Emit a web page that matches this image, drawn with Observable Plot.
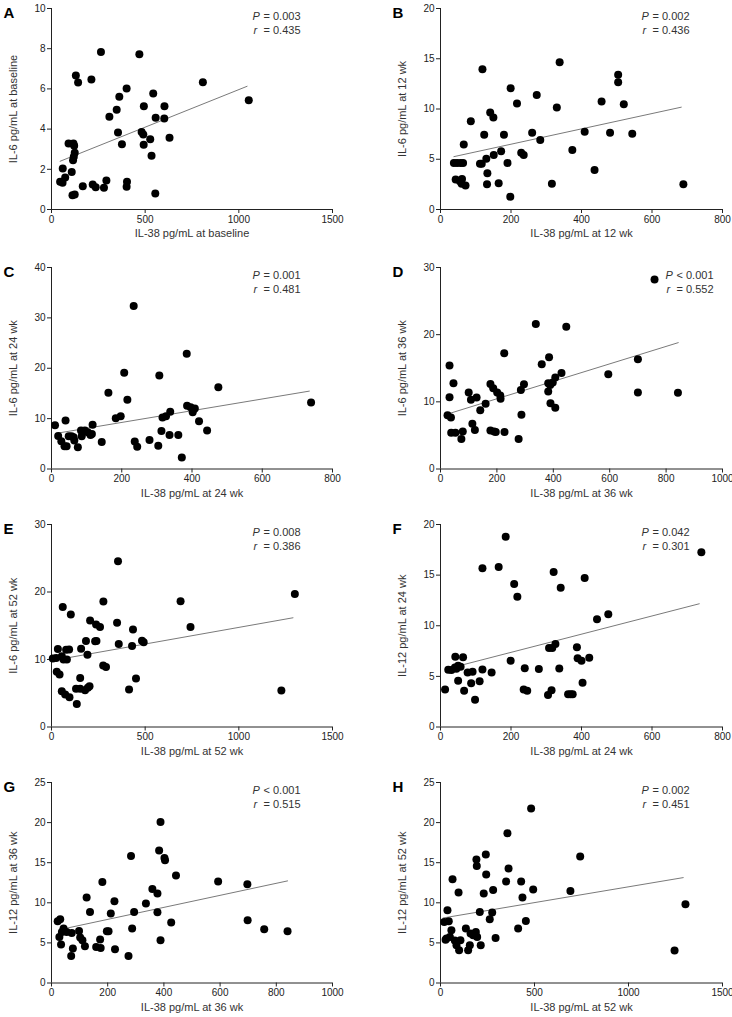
<!DOCTYPE html>
<html><head><meta charset="utf-8">
<script src="https://cdn.jsdelivr.net/npm/d3@7"></script>
<script src="https://cdn.jsdelivr.net/npm/@observablehq/plot@0.6"></script>
<style>
html,body{margin:0;padding:0;background:#fff;overflow:hidden;}
#fig{position:relative;width:732px;height:1017px;}
.panel{position:absolute;}
</style></head><body><div id="fig"></div>
<script>
// ---- data: [IL-38, IL-6 / IL-12] ----
const ptsA = [[46,1.38],[59,1.33],[60,2.04],[73,1.59],[91,3.28],[108,1.87],[112,0.71],[124,0.75],[117,3.28],[115,2.45],[119,2.62],[124,2.82],[121,3.17],[130,6.67],[142,6.32],[167,1.16],[220,1.24],[236,1.11],[264,7.84],[280,1.08],[293,1.44],[213,6.47],[309,4.61],[348,4.96],[362,5.61],[355,3.83],[376,3.25],[401,6.02],[403,1.38],[401,1.13],[469,7.73],[481,3.86],[490,3.73],[492,3.22],[493,5.14],[527,3.5],[534,2.67],[543,5.77],[556,4.56],[554,0.8],[602,4.53],[603,5.14],[630,3.57],[808,6.33],[1053,5.44]];
const ptsB = [[38,4.63],[47,4.63],[43,2.98],[55,2.81],[57,4.63],[61,3.04],[60,2.55],[64,4.63],[66,6.48],[71,2.38],[86,8.79],[112,4.56],[117,4.56],[119,13.95],[124,7.44],[130,5.06],[132,2.51],[133,3.6],[141,9.65],[150,9.16],[151,5.42],[165,2.61],[172,5.79],[180,7.44],[190,4.63],[199,12.07],[198,1.26],[217,10.55],[229,5.65],[236,5.42],[260,7.64],[273,11.4],[283,6.91],[316,2.55],[330,10.15],[338,14.64],[374,5.92],[409,7.74],[437,3.93],[457,10.74],[481,7.64],[504,13.42],[504,12.66],[520,10.48],[544,7.54],[689,2.51]];
const ptsC = [[10,8.69],[19,6.57],[28,5.51],[37,4.51],[40,9.62],[43,4.51],[49,6.5],[57,6.5],[63,6.3],[65,5.64],[75,4.31],[84,7.63],[86,6.5],[95,7.63],[103,7.3],[111,6.77],[115,6.97],[117,8.76],[143,5.37],[162,15.12],[183,10.08],[197,10.48],[207,19.1],[216,13.73],[234,32.37],[237,5.44],[244,4.44],[279,5.77],[304,4.64],[307,18.57],[313,7.56],[316,10.22],[326,10.48],[336,6.77],[338,11.34],[361,6.77],[371,2.26],[385,22.89],[386,12.54],[396,12.27],[402,11.28],[408,12.01],[420,9.49],[443,7.63],[475,16.25],[739,13.2]];
const ptsD = [[25,8.02],[32,15.4],[32,10.69],[37,7.67],[38,5.4],[46,12.77],[53,5.4],[74,4.46],[79,5.59],[100,11.39],[108,10.3],[113,6.73],[122,5.79],[128,10.64],[141,8.76],[160,9.7],[177,12.67],[177,5.74],[187,12.03],[190,5.59],[196,5.5],[201,11.39],[212,10.94],[213,10.45],[226,17.23],[227,5.5],[277,4.46],[285,11.78],[287,8.07],[296,12.62],[338,21.58],[359,15.59],[385,16.63],[382,12.77],[382,11.53],[389,12.52],[390,9.8],[398,12.87],[407,9.11],[407,13.61],[429,14.31],[446,21.19],[595,14.11],[700,16.34],[700,11.39],[842,11.34],[759,28.22]];
const ptsE = [[7,10.13],[25,10.24],[34,11.56],[28,8.17],[43,7.77],[55,10.47],[64,9.99],[82,9.99],[78,11.46],[94,11.5],[60,17.76],[103,16.67],[55,5.31],[73,4.82],[96,4.42],[135,3.4],[131,5.66],[153,5.66],[179,5.46],[194,5.81],[203,6.05],[153,7.25],[158,11.61],[184,12.75],[192,10.72],[206,15.79],[233,12.7],[240,12.75],[238,15.2],[259,14.81],[276,9.1],[291,8.9],[277,18.59],[350,15.45],[355,24.55],[359,12.3],[414,5.56],[430,12.0],[435,14.46],[451,7.2],[483,12.79],[492,12.54],[689,18.64],[742,14.81],[1227,5.41],[1299,19.72]];
const ptsF = [[13,3.7],[22,5.65],[31,5.62],[41,5.88],[45,5.75],[50,6.05],[57,5.95],[42,6.94],[64,6.88],[77,5.39],[91,5.46],[119,5.69],[145,5.39],[50,4.56],[67,3.57],[87,4.33],[111,4.53],[98,2.68],[119,15.67],[165,15.8],[185,18.78],[209,14.12],[218,12.86],[199,6.55],[239,5.8],[236,3.7],[246,3.57],[279,5.72],[305,3.17],[315,3.64],[308,7.8],[317,7.8],[326,8.2],[321,15.31],[337,5.79],[341,13.75],[362,3.24],[369,3.24],[375,3.24],[387,7.87],[389,6.78],[400,6.55],[403,4.36],[409,14.71],[422,6.84],[444,10.64],[476,11.14],[740,17.26]];
const ptsG = [[22,7.7],[31,7.95],[28,5.74],[34,4.79],[37,6.36],[43,6.78],[54,6.36],[72,6.24],[70,3.37],[76,4.29],[98,6.49],[102,5.66],[110,5.33],[119,4.58],[125,10.65],[137,8.86],[159,4.49],[173,5.41],[175,4.37],[181,12.6],[197,6.45],[203,6.45],[211,8.66],[224,10.19],[226,4.2],[274,3.37],[283,15.85],[287,6.78],[294,8.86],[336,9.9],[359,11.73],[377,11.15],[377,8.82],[383,16.51],[388,20.09],[388,5.32],[402,15.6],[404,15.3],[426,7.53],[443,13.4],[593,12.65],[697,12.31],[698,7.82],[757,6.7],[840,6.45]];
const ptsH = [[20,7.61],[37,9.07],[44,7.7],[27,5.4],[32,5.54],[50,5.74],[58,6.57],[64,12.94],[76,5.3],[85,4.7],[96,11.27],[99,4.08],[106,5.33],[135,6.79],[147,4.08],[156,4.7],[160,6.16],[174,5.95],[188,6.36],[195,5.74],[191,15.39],[193,14.6],[209,8.86],[214,4.7],[230,11.15],[241,16.01],[243,13.52],[262,7.95],[275,8.78],[280,11.61],[293,5.62],[349,12.65],[356,18.68],[362,14.27],[413,6.79],[429,12.65],[436,10.65],[454,7.74],[482,21.76],[493,11.65],[691,11.48],[743,15.77],[1245,4.05],[1303,9.82]];

// fitted lines (end points)
const fitA = [[46,2.4],[1044,6.13]];
const fitB = [[38,5.26],[683,10.18]];
const fitC = [[21,7.16],[734,15.46]];
const fitD = [[24,8.17],[843,18.81]];
const fitE = [[55,10.1],[1289,16.18]];
const fitF = [[64,6.15],[734,12.17]];
const fitG = [[57,6.86],[840,12.73]];
const fitH = [[14,8.11],[1291,13.14]];

const panelIds = ["A","B","C","D","E","F","G","H"];
const pValues = ["= 0.003","= 0.002","= 0.001","< 0.001","= 0.008","= 0.042","< 0.001","= 0.002"];
const rValues = ["= 0.435","= 0.436","= 0.481","= 0.552","= 0.386","= 0.301","= 0.515","= 0.451"];
const xLabels = ["IL-38 pg/mL at baseline","IL-38 pg/mL at 12 wk","IL-38 pg/mL at 24 wk","IL-38 pg/mL at 36 wk","IL-38 pg/mL at 52 wk","IL-38 pg/mL at 24 wk","IL-38 pg/mL at 36 wk","IL-38 pg/mL at 52 wk"];
const yLabels = ["IL-6 pg/mL at baseline","IL-6 pg/mL at 12 wk","IL-6 pg/mL at 24 wk","IL-6 pg/mL at 36 wk","IL-6 pg/mL at 52 wk","IL-12 pg/mL at 24 wk","IL-12 pg/mL at 36 wk","IL-12 pg/mL at 52 wk"];
const xTicks = [[0,500,1000,1500],[0,200,400,600,800],[0,200,400,600,800],[0,200,400,600,800,1000],[0,500,1000,1500],[0,200,400,600,800],[0,200,400,600,800,1000],[0,500,1000,1500]];
const yTicks = [[0,2,4,6,8,10],[0,5,10,15,20],[0,10,20,30,40],[0,10,20,30],[0,10,20,30],[0,5,10,15,20],[0,5,10,15,20,25],[0,5,10,15,20,25]];
const pointSets = [ptsA,ptsB,ptsC,ptsD,ptsE,ptsF,ptsG,ptsH];
const fitSets = [fitA,fitB,fitC,fitD,fitE,fitF,fitG,fitH];

// ---- layout ----
const rowTop = [8.3, 267.3, 524.3, 782.3];
const rowH = [201, 201.5, 202.5, 200.5];
const MT = 10, MB = 36;
const statShift = {D: 24};   // panel D's annotation sits right of the top outlier
const font = "'Liberation Sans', Arial, sans-serif";
const fig = document.getElementById("fig");
const fmt = d => String(d);

panelIds.forEach((id, i) => {
  const col = i % 2, row = Math.floor(i / 2);
  const xt = xTicks[i], yt = yTicks[i];
  const sx = statShift[id] || 0;
  const chart = Plot.plot({
    width: 366,
    height: MT + rowH[row] + MB,
    marginTop: MT, marginBottom: MB,
    marginLeft: col ? 74 : 51,
    marginRight: col ? 10 : 34,
    style: {fontFamily: font, fontSize: "10px", color: "#222", background: "none", overflow: "visible"},
    x: {domain: [xt[0], xt[xt.length - 1]], ticks: xt, tickFormat: fmt, tickSize: 4, tickPadding: 2, label: null},
    y: {domain: [yt[0], yt[yt.length - 1]], ticks: yt, tickFormat: fmt, tickSize: 4, tickPadding: 2, label: null},
    marks: [
      Plot.ruleX([0], {stroke: "#222"}),
      Plot.ruleY([0], {stroke: "#222"}),
      Plot.line(fitSets[i], {x: d => d[0], y: d => d[1], stroke: "#7a7a7a", strokeWidth: 1}),
      Plot.dot(pointSets[i], {x: d => d[0], y: d => d[1], r: 4, fill: "#000", stroke: "none"}),
      Plot.text([xLabels[i]], {text: d => d, frameAnchor: "bottom", dy: 24, lineAnchor: "middle", textAnchor: "middle", fontSize: 11, fill: "#333"}),
      Plot.text([yLabels[i]], {text: d => d, frameAnchor: "left", dx: -38, rotate: -90, lineAnchor: "middle", textAnchor: "middle", fontSize: 11, fill: "#333"}),
      Plot.text(["P"], {text: d => d, frameAnchor: "top-left", dx: 201 + sx, dy: 7.5, lineAnchor: "middle", textAnchor: "start", fontStyle: "italic", fontSize: 11, fill: "#333"}),
      Plot.text([pValues[i]], {text: d => d, frameAnchor: "top-left", dx: 212 + sx, dy: 7.5, lineAnchor: "middle", textAnchor: "start", fontSize: 11, fill: "#333"}),
      Plot.text(["r"], {text: d => d, frameAnchor: "top-left", dx: 202 + sx, dy: 21.5, lineAnchor: "middle", textAnchor: "start", fontStyle: "italic", fontSize: 11, fill: "#333"}),
      Plot.text([rValues[i]], {text: d => d, frameAnchor: "top-left", dx: 212 + sx, dy: 21.5, lineAnchor: "middle", textAnchor: "start", fontSize: 11, fill: "#333"}),
      Plot.text([id], {text: d => d, frameAnchor: "top-left", dx: -48, dy: 4.5, lineAnchor: "middle", textAnchor: "start", fontWeight: "bold", fontSize: 15, fill: "#000"})
    ]
  });
  const wrap = document.createElement("div");
  wrap.className = "panel";
  wrap.style.left = (col ? 366 : 0) + "px";
  wrap.style.top = (rowTop[row] - MT) + "px";
  wrap.appendChild(chart);
  fig.appendChild(wrap);
});
</script>
</body></html>
